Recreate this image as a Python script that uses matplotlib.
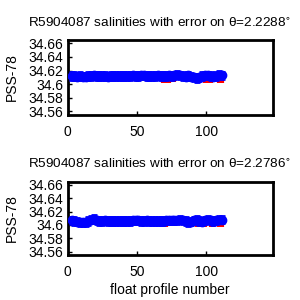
import numpy as np
import matplotlib
matplotlib.use('Agg')
import matplotlib.pyplot as plt

# profile numbers (every other profile)
profiles = [3, 5, 7, 9, 11, 13, 15, 17, 19, 21, 23, 25, 27, 29, 31, 33, 35, 37, 39, 41,
            43, 45, 47, 49, 51, 53, 55, 57, 59, 61, 63, 65, 67, 69, 71, 73, 75, 77, 79, 81,
            83, 85, 87, 89, 91, 93, 95, 97, 99, 101, 103, 105, 107, 109, 111]

# theta level 1
th1 = 2.2288
blue1 = [34.612, 34.612, 34.611, 34.612, 34.611, 34.611, 34.612, 34.612, 34.613, 34.612,
         34.612, 34.612, 34.612, 34.611, 34.612, 34.612, 34.612, 34.612, 34.612, 34.612,
         34.612, 34.612, 34.613, 34.612, 34.612, 34.613, 34.613, 34.612, 34.612, 34.612,
         34.612, 34.613, 34.612, 34.612, 34.612, 34.613, 34.612, 34.613, 34.614, 34.613,
         34.612, 34.611, 34.613, 34.611, 34.610, 34.609, 34.610, 34.612, 34.613, 34.613,
         34.612, 34.611, 34.612, 34.614, 34.613]
red1 = [34.611, 34.611, 34.611, 34.611, 34.611, 34.611, 34.611, 34.611, 34.611, 34.611,
        34.611, 34.611, 34.611, 34.611, 34.611, 34.611, 34.611, 34.611, 34.611, 34.611,
        34.611, 34.611, 34.611, 34.611, 34.611, 34.611, 34.611, 34.611, 34.611, 34.611,
        34.611, 34.611, 34.610, 34.607, 34.607, 34.607, 34.608, 34.608, 34.610, 34.610,
        34.610, 34.610, 34.610, 34.609, 34.608, 34.608, 34.607, 34.609, 34.607, 34.607,
        34.607, 34.609, 34.609, 34.607, 34.607]
green1 = [34.611, 34.611, 34.611, 34.611, 34.611, 34.611, 34.611, 34.611, 34.612, 34.611,
          34.611, 34.611, 34.611, 34.611, 34.611, 34.611, 34.611, 34.611, 34.611, 34.611,
          34.611, 34.611, 34.612, 34.611, 34.611, 34.612, 34.612, 34.611, 34.611, 34.611,
          34.611, 34.612, 34.611, 34.611, 34.611, 34.612, 34.611, 34.612, 34.612, 34.612,
          34.611, 34.610, 34.611, 34.610, 34.609, 34.608, 34.608, 34.609, 34.609, 34.609,
          34.609, 34.609, 34.610, 34.610, 34.610]

# theta level 2
th2 = 2.2786
blue2 = [34.607, 34.606, 34.605, 34.604, 34.604, 34.604, 34.606, 34.608, 34.609, 34.607,
         34.606, 34.606, 34.607, 34.606, 34.606, 34.606, 34.606, 34.606, 34.606, 34.606,
         34.606, 34.606, 34.607, 34.607, 34.607, 34.606, 34.606, 34.607, 34.606, 34.606,
         34.606, 34.606, 34.606, 34.606, 34.607, 34.607, 34.607, 34.607, 34.607, 34.608,
         34.607, 34.606, 34.604, 34.605, 34.607, 34.608, 34.606, 34.605, 34.607, 34.608,
         34.607, 34.606, 34.607, 34.608, 34.608]
red2 = [34.606, 34.606, 34.606, 34.606, 34.606, 34.606, 34.606, 34.607, 34.607, 34.606,
        34.606, 34.606, 34.606, 34.606, 34.606, 34.606, 34.606, 34.606, 34.606, 34.606,
        34.606, 34.606, 34.606, 34.606, 34.606, 34.606, 34.606, 34.606, 34.606, 34.606,
        34.606, 34.606, 34.605, 34.602, 34.602, 34.603, 34.605, 34.604, 34.605, 34.606,
        34.605, 34.604, 34.603, 34.602, 34.603, 34.602, 34.601, 34.602, 34.602, 34.604,
        34.602, 34.602, 34.603, 34.602, 34.602]
green2 = [34.607, 34.606, 34.605, 34.605, 34.604, 34.605, 34.606, 34.607, 34.608, 34.607,
          34.606, 34.606, 34.607, 34.606, 34.606, 34.606, 34.606, 34.606, 34.606, 34.606,
          34.606, 34.606, 34.607, 34.607, 34.606, 34.606, 34.606, 34.607, 34.606, 34.606,
          34.606, 34.606, 34.606, 34.606, 34.606, 34.606, 34.606, 34.606, 34.606, 34.607,
          34.606, 34.605, 34.604, 34.604, 34.604, 34.605, 34.604, 34.604, 34.604, 34.605,
          34.604, 34.604, 34.605, 34.605, 34.605]

err_blue = 0.0055
err_red = 0.0045
yticks = [34.56, 34.58, 34.6, 34.62, 34.64, 34.66]
ytick_labels = ['34.56', '34.58', '34.6', '34.62', '34.64', '34.66']

plt.rcParams['font.family'] = ['Liberation Sans', 'DejaVu Sans']
fig = plt.figure(figsize=(3, 3), dpi=100)

panels = [(th1, blue1, red1, green1, [0.225, 0.617, 0.685, 0.25], 0.922),
          (th2, blue2, red2, green2, [0.225, 0.150, 0.685, 0.245], 0.453)]

for i, (th, blue, red, green, pos, ty) in enumerate(panels):
    ax = fig.add_axes(pos)
    ax.errorbar(profiles, red, yerr=err_red, color='red', linewidth=1,
                elinewidth=3, capsize=0, zorder=1)
    ax.plot(profiles, green, color='#00e000', linewidth=1.5, zorder=2)
    ax.errorbar(profiles, blue, yerr=err_blue, color='blue', linestyle='none',
                marker='o', markersize=6, elinewidth=3, capsize=2.5, capthick=2, zorder=3)
    ax.set_xlim(0, 148)
    ax.set_ylim(34.555, 34.665)
    ax.set_yticks(yticks)
    ax.set_yticklabels(ytick_labels)
    ax.set_xticks([0, 50, 100])
    ax.tick_params(direction='in', length=3, width=1, labelsize=10)
    ax.tick_params(axis='y', pad=3)
    ax.tick_params(axis='x', pad=7)
    for s in ax.spines.values():
        s.set_linewidth(2)
    ax.set_ylabel('PSS-78', fontsize=10, labelpad=7)
    fig.text(0.533, ty, 'R5904087 salinities with error on \u03b8=%.4f$^{\\circ}$' % th,
             fontsize=9.7, ha='center', va='center')
    if i == 1:
        ax.set_xlabel('float profile number', fontsize=10, labelpad=3)

fig.savefig('out.png', dpi=100)
